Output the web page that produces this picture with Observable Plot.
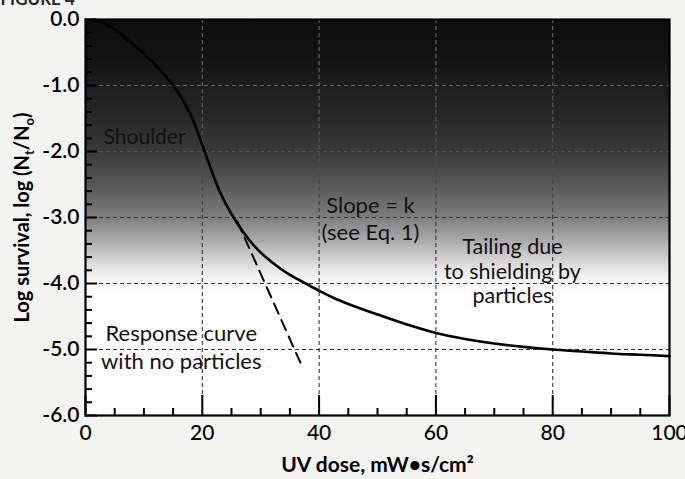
<!DOCTYPE html>
<html><head><meta charset="utf-8">
<script src="https://cdn.jsdelivr.net/npm/d3@7"></script>
<script src="https://cdn.jsdelivr.net/npm/@observablehq/plot@0.6"></script>
<style>
html,body{margin:0;padding:0;background:#f3f3f1;}
#chart{width:685px;height:479px;overflow:hidden;}
</style></head><body><div id="chart"></div>
<script>
// Response curve with particles (solid)
const curveDose = [1.5, 3, 5, 7.5, 10, 12.5, 15, 17, 18.5, 20, 21.5, 23, 25, 27, 29, 31, 33, 35, 37.5, 40, 42.5, 45, 50, 55, 60, 65, 70, 75, 80, 85, 90, 95, 100];
const curveLog  = [0, -0.05, -0.15, -0.33, -0.52, -0.74, -1.0, -1.27, -1.54, -1.9, -2.27, -2.61, -2.95, -3.22, -3.44, -3.61, -3.75, -3.87, -3.99, -4.11, -4.22, -4.31, -4.47, -4.62, -4.75, -4.84, -4.91, -4.96, -5.0, -5.03, -5.06, -5.08, -5.1];
// Response curve with no particles (dashed)
const noParticleDose = [26.0, 36.8];
const noParticleLog  = [-3.06, -5.2];
// ticks
const xMajorTicks = [0, 20, 40, 60, 80, 100];
const xMinorTicks = [5, 10, 15, 25, 30, 35, 45, 50, 55, 65, 70, 75, 85, 90, 95];
const xGridTicks = [20, 40, 60, 80];
const yMajorTicks = [0, -1, -2, -3, -4, -5, -6];
const yMinorTicks = [-0.2,-0.4,-0.6,-0.8,-1.2,-1.4,-1.6,-1.8,-2.2,-2.4,-2.6,-2.8,-3.2,-3.4,-3.6,-3.8,-4.2,-4.4,-4.6,-4.8,-5.2,-5.4,-5.6,-5.8];
const yGridTicks = [-1, -2, -3, -4, -5];
// annotations
const noteText = ["Shoulder", "Slope = k\n(see Eq. 1)", "Tailing due\nto shielding by\nparticles", "Response curve\nwith no particles"];
const noteDose = [3.1, 48.8, 73.1, 16.4];
const noteLog  = [-1.78, -3.0, -3.81, -4.95];
const xLabel = "UV dose, mW•s/cm²";
const yLabel = "Log survival, log (Nt/No)";
const figLabel = "FIGURE 4";

const curve = curveDose.map((x, i) => ({x, y: curveLog[i]}));
const noPart = noParticleDose.map((x, i) => ({x, y: noParticleLog[i]}));
const notes = noteText.map((t, i) => ({t, x: noteDose[i], y: noteLog[i], i}));

const font = "Lato, 'Open Sans', sans-serif";
const gridStyle = {stroke: "url(#gridGrad)", strokeOpacity: 1, strokeWidth: 1.1, strokeDasharray: "4,3"};

const plot = Plot.plot({
  width: 685, height: 479,
  marginLeft: 85, marginRight: 16, marginTop: 19, marginBottom: 64,
  style: {background: "transparent", fontFamily: font, color: "#000", overflow: "visible"},
  x: {domain: [0, 100]},
  y: {domain: [-6, 0]},
  marks: [
    Plot.frame({fill: "url(#bgGrad)", stroke: null}),
    Plot.gridX(xGridTicks, gridStyle),
    Plot.gridY(yGridTicks, gridStyle),
    Plot.line(curve, {x: "x", y: "y", stroke: "#000", strokeWidth: 2.6, curve: "catmull-rom"}),
    Plot.line(noPart, {x: "x", y: "y", stroke: "#000", strokeWidth: 2, strokeDasharray: "11,7"}),
    Plot.text(notes.filter(d => d.i === 0), {x: "x", y: "y", text: "t", textAnchor: "start", fontSize: 21, fill: "#111"}),
    Plot.text(notes.filter(d => d.i === 1 || d.i === 3), {x: "x", y: "y", text: "t", fontSize: 22, lineHeight: 1.25, fill: "#111"}),
    Plot.text(notes.filter(d => d.i === 2), {x: "x", y: "y", text: "t", fontSize: 21.5, lineHeight: 1.13, fill: "#111"}),
    // inward ticks
    Plot.axisX(xMajorTicks, {tickSize: -20, tickFormat: () => "", strokeWidth: 2, label: null}),
    Plot.axisX(xMinorTicks, {tickSize: -7, tickFormat: () => "", strokeWidth: 2, label: null}),
    Plot.axisY(yMajorTicks, {tickSize: -12, tickFormat: () => "", strokeWidth: 2, label: null}),
    Plot.axisY(yMinorTicks, {tickSize: -7, tickFormat: () => "", strokeWidth: 2, label: null}),
    // tick labels
    Plot.axisX(xMajorTicks, {tickSize: 0, tickPadding: 10, tickFormat: d => String(d), fontSize: 21, fontWeight: 500, label: null}),
    Plot.axisY(yMajorTicks, {tickSize: 0, tickPadding: 6, tickFormat: d => d.toFixed(1), fontSize: 21, fontWeight: 600, label: null}),
    Plot.frame({stroke: "#000", strokeWidth: 2.2}),
    // axis titles
    Plot.text([xLabel], {text: d => d, frameAnchor: "bottom", dy: 56, lineAnchor: "bottom", fontSize: 21, fontWeight: "bold"}),
    Plot.text([yLabel], {text: d => d, frameAnchor: "left", dx: -63, rotate: -90, textAnchor: "middle", lineAnchor: "middle", fontSize: 20, fontWeight: "bold"}),
    Plot.text([figLabel], {text: d => d, frameAnchor: "top-left", dx: -85, dy: -15, textAnchor: "start", lineAnchor: "bottom", fontSize: 17, fontWeight: "bold", fill: "#222"})
  ]
});

// gradients (style only)
const ns = "http://www.w3.org/2000/svg";
const ys = plot.scale("y");
const yTop = ys.apply(0), yBot = ys.apply(-6);
const defs = document.createElementNS(ns, "defs");
defs.innerHTML = `<linearGradient id="bgGrad" x1="0" y1="0" x2="0" y2="1">
  <stop offset="0" stop-color="#0e0e0e"/>
  <stop offset="0.1" stop-color="#131313"/>
  <stop offset="0.167" stop-color="#1d1d1d"/>
  <stop offset="0.25" stop-color="#292929"/>
  <stop offset="0.333" stop-color="#3a3a3a"/>
  <stop offset="0.417" stop-color="#575757"/>
  <stop offset="0.5" stop-color="#7e7e7e"/>
  <stop offset="0.55" stop-color="#a4a4a4"/>
  <stop offset="0.6" stop-color="#cdcdcd"/>
  <stop offset="0.64" stop-color="#ececec"/>
  <stop offset="0.67" stop-color="#fbfbfb"/>
  <stop offset="0.7" stop-color="#fff"/>
  <stop offset="1" stop-color="#fff"/>
</linearGradient>
<linearGradient id="gridGrad" gradientUnits="userSpaceOnUse" x1="0" y1="${yTop}" x2="0" y2="${yBot}">
  <stop offset="0" stop-color="#6a6a6a"/>
  <stop offset="0.3" stop-color="#5a5a5a"/>
  <stop offset="0.5" stop-color="#333"/>
  <stop offset="1" stop-color="#333"/>
</linearGradient>`;
plot.insertBefore(defs, plot.firstChild);

// subscripts in y label
const yl = Array.from(plot.querySelectorAll("text")).find(t => t.textContent === yLabel);
if (yl) {
  while (yl.firstChild) yl.removeChild(yl.firstChild);
  const parts = [["Log survival, log (N", 0, null], ["t", 5, 13], ["/N", -5, null], ["o", 5, 13], [")", -5, null]];
  for (const [s, dy, fs] of parts) {
    const ts = document.createElementNS(ns, "tspan");
    ts.textContent = s;
    if (dy) ts.setAttribute("dy", dy);
    if (fs) ts.setAttribute("font-size", fs);
    yl.appendChild(ts);
  }
}
document.getElementById("chart").appendChild(plot);
</script>
</body></html>
